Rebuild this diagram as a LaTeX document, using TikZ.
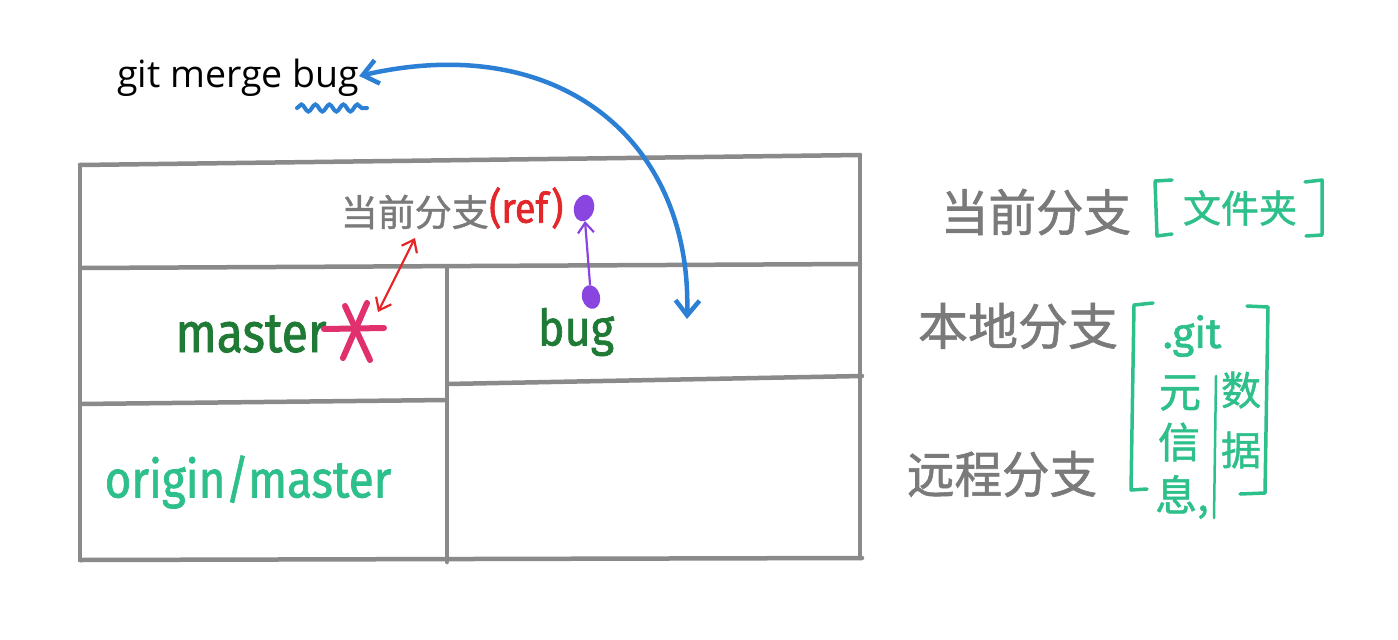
\documentclass[tikz,border=0pt]{standalone}
\usepackage{fontspec}
\setmainfont{Open Sans}
\newfontfamily\cjk[FakeBold=1.2]{Noto Sans CJK SC}
\newfontfamily\hand[FakeBold=1.5]{Fira Sans}
\usetikzlibrary{arrows.meta,decorations.pathmorphing,shapes.geometric}
\definecolor{tblgrey}{HTML}{8A8A8A}
\definecolor{txtgrey}{HTML}{7A7A7A}
\definecolor{dkgreen}{HTML}{1F7A35}
\definecolor{teal2}{HTML}{2EC08A}
\definecolor{refred}{HTML}{E3262A}
\definecolor{pink2}{HTML}{E0306E}
\definecolor{purp}{HTML}{8A45E0}
\definecolor{blu}{HTML}{2B7FD4}
\tikzset{
  tbl/.style={draw=tblgrey,line width=4.5pt,line cap=round},
  greytxt/.style={text=txtgrey,inner sep=0pt},
  branch/.style={text=dkgreen,inner sep=0pt},
  tealtxt/.style={text=teal2,inner sep=0pt},
  brk/.style={draw=teal2,line width=3.5pt,line cap=round,line join=round},
}
\begin{document}
\begin{tikzpicture}[x=1pt,y=-1pt]
\useasboundingbox[fill=white] (0,0) rectangle (1398,640);
% table
\draw[tbl] (80,165) -- (860,155);
\draw[tbl] (80,268) -- (860,264);
\draw[tbl] (80,404) -- (447,400);
\draw[tbl] (447,384) -- (862,376);
\draw[tbl] (80,560) -- (862,558);
\draw[tbl] (80,165) -- (80,560);
\draw[tbl] (860,155) -- (860,558);
\draw[tbl] (447,268) -- (447,562);
% command
\node[inner sep=0pt,anchor=west,font=\fontsize{37.5}{42}\selectfont] (cmd) at (117,78) {git merge bug};
\draw[blu,line width=4pt,line cap=round,decorate,decoration={snake,amplitude=3.5pt,segment length=14pt}] (297,108) -- (367,108);
% current branch label in table
\node[greytxt,anchor=east,font=\cjk\fontsize{37}{40}\selectfont] (cur) at (489,212) {当前分支};
\node[text=refred,inner sep=0pt,anchor=west,font=\hand\fontsize{42}{46}\selectfont,xscale=0.9] (ref) at (489,208) {(ref)};
% branches
\node[branch,font=\hand\fontsize{56}{60}\selectfont,xscale=0.86] (master) at (251,334) {master};
\node[branch,font=\hand\fontsize{50}{54}\selectfont,xscale=0.9] (bug) at (576,332) {bug};
\node[tealtxt,font=\hand\fontsize{52}{56}\selectfont,xscale=0.88] (origin) at (248,482) {origin/master};
% pink asterisk
\coordinate (ast) at (357,331);
\draw[pink2,line width=6pt,line cap=round] (324,329) -- (384,328);
\draw[pink2,line width=6pt,line cap=round] (345,306) -- (370,360);
\draw[pink2,line width=6pt,line cap=round] (367,303) -- (343,358);
% red double arrow
\coordinate (rtop) at (415,238);
\coordinate (rbot) at (378,312);
\draw[refred,line width=2.2pt,{Straight Barb[length=11pt,width=17pt]}-{Straight Barb[length=11pt,width=17pt]}] (rbot) -- (rtop);
% purple dots and arrow
\node[ellipse,fill=purp,minimum width=20pt,minimum height=27pt,inner sep=0pt,rotate=-15] (pup) at (584,208) {};
\node[ellipse,fill=purp,minimum width=18pt,minimum height=24pt,inner sep=0pt,rotate=15] (pdown) at (591,297) {};
\draw[purp,line width=2.2pt,-{Straight Barb[length=10pt,width=16pt]}] (pdown) -- (pup);
% blue arc
\coordinate (arcend) at (687,319);
\draw[blu,line width=4.5pt,{Straight Barb[length=15pt,width=24pt]}-{Straight Barb[length=15pt,width=24pt]}] (cmd.east) ++(0,-2) .. controls (560,30) and (692,141) .. (arcend);
% right side labels
\node[greytxt,font=\cjk\fontsize{50}{54}\selectfont,xscale=0.95] (lcur) at (1036,212) {当前分支};
\node[greytxt,font=\cjk\fontsize{50}{54}\selectfont] (lloc) at (1018,326) {本地分支};
\node[greytxt,font=\cjk\fontsize{50}{54}\selectfont,xscale=0.95] (lrem) at (1002,474) {远程分支};
% [文件夹]
\node[tealtxt,font=\cjk\fontsize{38}{40}\selectfont] (folder) at (1240,208) {文件夹};
\draw[brk] (1172,180) -- (1155,181) -- (1157,236) -- (1172,234);
\draw[brk] (1305,182) -- (1322,180) -- (1322,235) -- (1306,236);
% .git block
\draw[brk] (1153,303) -- (1134,305) -- (1131,490) -- (1147,489);
\draw[brk] (1247,306) -- (1268,307) -- (1265,493) -- (1240,494);
\draw[draw=teal2,line width=2.5pt,line cap=round] (1216,376) -- (1214,518);
\node[tealtxt,font=\hand\fontsize{42}{46}\selectfont] (git) at (1192,336) {.git};
\node[tealtxt,font=\cjk\fontsize{42}{44}\selectfont] (yuan) at (1180,393) {元};
\node[tealtxt,font=\cjk\fontsize{42}{44}\selectfont] (xin) at (1179,442) {信};
\node[tealtxt,font=\cjk\fontsize{42}{44}\selectfont] (xi) at (1182,497) {息,};
\node[tealtxt,font=\cjk\fontsize{40}{42}\selectfont] (shu) at (1241,390) {数};
\node[tealtxt,font=\cjk\fontsize{40}{42}\selectfont] (ju) at (1241,450) {据};
\end{tikzpicture}
\end{document}
